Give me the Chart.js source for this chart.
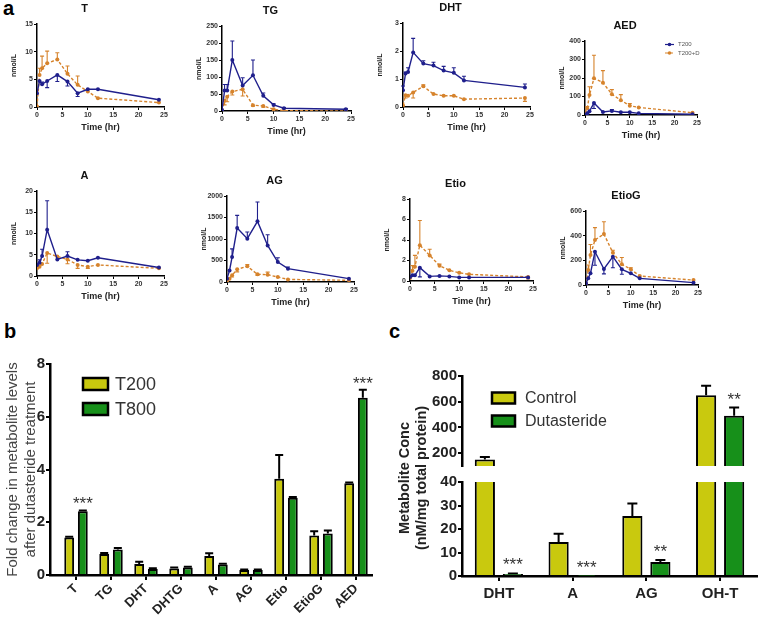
<!DOCTYPE html>
<html>
<head>
<meta charset="utf-8">
<script src="https://cdn.jsdelivr.net/npm/chart.js@4.4.1/dist/chart.umd.min.js"></script>
<style>
  body { margin: 0; background: #fff; width: 760px; height: 627px; position: relative; overflow: hidden; font-family: "Liberation Sans", Arial, sans-serif; }
  canvas { position: absolute; }
  .panel { position: absolute; font-weight: bold; font-size: 20px; line-height: 20px; color: #000; }
  #cTitle { position: absolute; left: 313px; top: 461px; width: 200px; height: 34px; line-height: 17px; font-size: 14.5px; font-weight: bold; color: #222; text-align: center; transform: rotate(-90deg); white-space: nowrap; }
</style>
</head>
<body>
<div class="panel" style="left:3px;top:-2px">a</div>
<div class="panel" style="left:4px;top:321px">b</div>
<div class="panel" style="left:389px;top:321px">c</div>

<canvas id="cT"></canvas>
<canvas id="cTG"></canvas>
<canvas id="cDHT"></canvas>
<canvas id="cAED"></canvas>
<canvas id="cA"></canvas>
<canvas id="cAG"></canvas>
<canvas id="cEtio"></canvas>
<canvas id="cEtioG"></canvas>
<canvas id="chartB" width="380" height="297" style="left:0;top:330px"></canvas>
<canvas id="chartCup" width="380" height="146" style="left:380px;top:330px"></canvas>
<canvas id="chartClow" width="380" height="157" style="left:380px;top:470px"></canvas>
<div id="cTitle">Metabolite Conc<br>(nM/mg total protein)</div>

<script>
// ---- panel a: time courses (hr), T200 vs T200+D ----
const times = [0, 0.5, 1, 2, 4, 6, 8, 10, 12, 24];

const t200_T = [2.5, 4.7, 4.1, 4.7, 5.8, 4.6, 2.5, 3.2, 3.2, 1.3];
const t200_T_err = [0, 0, 0.4, -1.2, -1.2, -0.8, -0.6, 0, 0, 0];
const t200d_T = [0.1, 5.8, 7.0, 7.9, 8.6, 6.0, 4.0, 2.8, 1.6, 0.8];
const t200d_T_err = [0, 1.2, 2.2, 2.2, 1.2, 1.4, 1.6, 0, 0, 0];

const t200_TG = [3, 60, 60, 150, 75, 105, 45, 18, 8, 5];
const t200_TG_err = [0, 18, 18, 56, 23, 45, 8, 3, 2, 2];
const t200d_TG = [0, 30, 42, 57, 64, 17, 15, 5, 1, 0];
const t200d_TG_err = [0, -12, -15, -10, -20, -3, -4, 0, 0, 0];

const t200_DHT = [0.6, 1.2, 1.25, 1.95, 1.55, 1.48, 1.3, 1.22, 0.95, 0.7];
const t200_DHT_err = [0.15, 0.05, 0.15, 0.5, 0.1, 0.12, 0.15, 0.18, 0.15, 0.12];
const t200d_DHT = [0.06, 0.42, 0.4, 0.52, 0.74, 0.46, 0.4, 0.4, 0.28, 0.32];
const t200d_DHT_err = [0, -0.1, 0, -0.2, 0.05, 0, 0, 0, 0, -0.12];

const t200_AED = [0, 9, 20, 65, 16, 22, 15, 15, 9, 4];
const t200_AED_err = [0, 0, 0, -30, 0, 8, 0, 0, 0, 0];
const t200d_AED = [12, 36, 108, 198, 175, 112, 80, 50, 41, 12];
const t200d_AED_err = [0, 10, 45, 125, 65, 25, 30, 12, 0, 0];

const t200_A = [2.6, 3.1, 4.7, 10.9, 3.9, 4.7, 3.8, 3.6, 4.3, 2.0];
const t200_A_err = [0, 0.7, 1.6, 6.8, 0, 1.0, 0, 0, 0, 0];
const t200d_A = [1.8, 2.2, 2.8, 5.4, 4.6, 3.9, 2.6, 2.2, 2.6, 1.8];
const t200d_A_err = [0, 0, 0, -2.4, 0, -1.0, -0.8, -0.4, 0, 0];

const t200_AG = [78, 270, 580, 1255, 1008, 1410, 850, 465, 310, 78];
const t200_AG_err = [0, 0, 190, 295, 155, 450, 250, 100, 40, 0];
const t200d_AG = [0, 78, 155, 295, 365, 180, 170, 115, 60, 40];
const t200d_AG_err = [0, 0, -40, -60, 40, -30, 60, 0, 0, 0];

const t200_Etio = [0.4, 0.55, 0.55, 1.3, 0.45, 0.5, 0.45, 0.35, 0.35, 0.35];
const t200_Etio_err = [0, 0, 0, -0.9, 0, 0, 0, 0, 0, 0];
const t200d_Etio = [0.3, 1.0, 1.4, 3.5, 2.5, 1.5, 1.05, 0.8, 0.65, 0.4];
const t200d_Etio_err = [0, 0.5, 1.1, 2.4, 0.6, 0.15, 0, 0, 0, -0.2];

const t200_EtioG = [13, 54, 95, 270, 130, 230, 127, 95, 54, 19];
const t200_EtioG_err = [0, 0, 0, -110, -40, -90, -40, 0, 0, 0];
const t200d_EtioG = [13, 122, 243, 365, 413, 262, 168, 127, 73, 40];
const t200d_EtioG_err = [0, 40, 85, 100, 100, 20, 55, 13, 0, 0];

// ---- panel b: fold change ----
const bCats = ['T', 'TG', 'DHT', 'DHTG', 'A', 'AG', 'Etio', 'EtioG', 'AED'];
const bT200 = [1.42, 0.8, 0.42, 0.25, 0.72, 0.19, 3.65, 1.5, 3.48];
const bT200Err = [0.03, 0.03, 0.08, 0.03, 0.1, 0.02, 0.9, 0.16, 0.03];
const bT800 = [2.42, 0.97, 0.23, 0.28, 0.4, 0.19, 2.93, 1.57, 6.72];
const bT800Err = [0.03, 0.05, 0.03, 0.03, 0.03, 0.02, 0.03, 0.12, 0.3];
const bT800Stars = ['***', '', '', '', '', '', '', '', '***'];
const bTicks = [0, 2, 4, 6, 8];

// ---- panel c: metabolite conc (broken axis 40 | 100) ----
const cCats = ['DHT', 'A', 'AG', 'OH-T'];
const cControl = [150, 14.5, 25.5, 650];
const cControlErr = [20, 3.5, 5.3, 75];
const cDut = [0.8, 0.1, 6, 490];
const cDutErr = [0.3, 0, 0.8, 65];
const cDutStars = ['***', '***', '**', '**'];
const cUpperTicks = [200, 400, 600, 800];
const cLowerTicks = [0, 10, 20, 30, 40];
const cBreakLow = 40, cBreakHigh = 100;

const blue = '#1f1f8c', orange = '#d6832c';
const yellow = '#c9c90e', green = '#17901a';

Chart.defaults.font.family = '"Liberation Sans", Arial, sans-serif';
Chart.defaults.color = '#222';
Chart.defaults.animation = false;
Chart.defaults.responsive = false;

// error bars drawn from the data through the y scale (sign = direction)
const errorBars = {
  id: 'errorBars',
  beforeDatasetsDraw(chart, args, o) {
    const { ctx, chartArea: a } = chart;
    ctx.save();
    ctx.beginPath();
    ctx.rect(a.left - 5, a.top - 1, a.right - a.left + 10, a.bottom - a.top + 1);
    ctx.clip();
    chart.data.datasets.forEach((ds, i) => {
      if (!ds.errs) return;
      const meta = chart.getDatasetMeta(i);
      const ys = chart.scales[meta.yAxisID];
      ctx.strokeStyle = o.color || ds.borderColor;
      ctx.lineWidth = o.width;
      ctx.setLineDash([]);
      meta.data.forEach((el, j) => {
        const raw = ds.data[j];
        const v = (raw !== null && typeof raw === 'object') ? raw.y : raw;
        const e = ds.errs[j];
        if (v == null || !e) return;
        const y0 = ys.getPixelForValue(v), y1 = ys.getPixelForValue(v + e);
        ctx.beginPath();
        ctx.moveTo(el.x, y0); ctx.lineTo(el.x, y1);
        ctx.moveTo(el.x - o.cap / 2, y1); ctx.lineTo(el.x + o.cap / 2, y1);
        ctx.stroke();
      });
    });
    ctx.restore();
  }
};

const stars = {
  id: 'stars',
  afterDatasetsDraw(chart, args, o) {
    const { ctx, chartArea: a } = chart;
    ctx.save();
    ctx.font = o.size + 'px "Liberation Sans", Arial, sans-serif';
    ctx.fillStyle = '#333';
    ctx.textAlign = 'center';
    ctx.textBaseline = 'alphabetic';
    chart.data.datasets.forEach((ds, i) => {
      if (!ds.stars) return;
      const meta = chart.getDatasetMeta(i);
      const ys = chart.scales[meta.yAxisID];
      meta.data.forEach((el, j) => {
        const raw = ds.data[j];
        const v = (raw !== null && typeof raw === 'object') ? raw.y : raw;
        if (v == null || !ds.stars[j]) return;
        const top = ys.getPixelForValue(v + Math.max(ds.errs ? ds.errs[j] : 0, 0));
        if (top < a.top - 1 || top > a.bottom + 1) return;
        ctx.fillText(ds.stars[j], el.x, top - o.gap + 0.575 * o.size);
      });
    });
    ctx.restore();
  }
};

// legend boxes placed inside the plot area
const boxLegend = {
  id: 'boxLegend',
  afterDraw(chart, args, o) {
    const { ctx, chartArea: a } = chart;
    ctx.save();
    ctx.font = o.size + 'px "Liberation Sans", Arial, sans-serif';
    ctx.textBaseline = 'middle';
    chart.data.datasets.forEach((ds, i) => {
      const cy = a.top + o.y + i * o.dy;
      const x = a.left + o.x;
      ctx.fillStyle = ds.backgroundColor;
      ctx.fillRect(x, cy - o.h / 2, o.w, o.h);
      ctx.lineWidth = 2.5;
      ctx.strokeStyle = '#000';
      ctx.strokeRect(x, cy - o.h / 2, o.w, o.h);
      ctx.fillStyle = '#333';
      ctx.fillText(ds.label, a.left + o.tx, cy + 1);
    });
    ctx.restore();
  }
};

const lineLegend = {
  id: 'lineLegend',
  afterDraw(chart, args, o) {
    if (!o.show) return;
    const { ctx, chartArea: a } = chart;
    ctx.save();
    ctx.font = o.size + 'px "Liberation Sans", Arial, sans-serif';
    ctx.textBaseline = 'middle';
    chart.data.datasets.forEach((ds, i) => {
      const cy = a.top + o.y + i * o.dy;
      const x = a.left + o.x;
      ctx.strokeStyle = ds.borderColor;
      ctx.lineWidth = 1.2;
      ctx.setLineDash(ds.borderDash || []);
      ctx.beginPath(); ctx.moveTo(x, cy); ctx.lineTo(x + 9, cy); ctx.stroke();
      ctx.setLineDash([]);
      ctx.fillStyle = ds.borderColor;
      ctx.beginPath(); ctx.arc(x + 4.5, cy, 1.8, 0, Math.PI * 2); ctx.fill();
      ctx.fillStyle = '#555';
      ctx.fillText(ds.label, x + 13, cy);
    });
    ctx.restore();
  }
};

function axisStyle(width, tick) {
  return {
    grid: { drawOnChartArea: false, color: '#000', lineWidth: 1, tickLength: tick },
    border: { color: '#000', width: width }
  };
}

// small time-course chart; box = plot area [left, top, right, bottom] in page px
function smallChart(id, box, title, ymax, ystep, s1, e1, s2, e2, legend) {
  const [L, T, R, B] = box;
  const cv = document.getElementById(id);
  cv.width = R - L + 40;
  cv.height = B - T + 48;
  cv.style.left = (L - 32) + 'px';
  cv.style.top = (T - 22) + 'px';
  return new Chart(cv, {
    type: 'line',
    data: {
      datasets: [
        { label: 'T200', data: times.map((t, i) => ({ x: t, y: s1[i] })), errs: e1,
          borderColor: blue, backgroundColor: blue, borderWidth: 1.4, pointRadius: 2, pointBorderWidth: 0 },
        { label: 'T200+D', data: times.map((t, i) => ({ x: t, y: s2[i] })), errs: e2,
          borderColor: orange, backgroundColor: orange, borderWidth: 1.4, borderDash: [3, 2], pointRadius: 2, pointBorderWidth: 0 }
      ]
    },
    options: {
      layout: { padding: { left: 0, top: 0, right: 8, bottom: 0 } },
      plugins: {
        legend: { display: false },
        tooltip: { enabled: false },
        title: { display: true, text: title, color: '#111', font: { size: 11, weight: 'bold' }, padding: { top: 0, bottom: 8.8 } },
        errorBars: { cap: 4, width: 1.1 },
        lineLegend: { show: !!legend, x: 80, y: 3.5, dy: 8.5, size: 6 }
      },
      scales: {
        x: {
          type: 'linear', min: 0, max: 25,
          ticks: { stepSize: 5, font: { size: 7, weight: 'bold' }, color: '#333', padding: 1, maxRotation: 0 },
          ...axisStyle(1.5, 3),
          title: { display: true, text: 'Time (hr)', color: '#222', font: { size: 9, weight: 'bold' }, padding: 0 },
          afterFit: s => { s.height = 26; }
        },
        y: {
          min: 0, max: ymax,
          ticks: { stepSize: ystep, font: { size: 7, weight: 'bold' }, color: '#333', padding: 1, callback: v => String(v) },
          ...axisStyle(1.5, 3),
          title: { display: true, text: 'nmol/L', color: '#222', font: { size: 7, weight: 'bold' }, padding: { top: 5, bottom: 0 } },
          afterFit: s => { s.width = 32; }
        }
      }
    },
    plugins: [errorBars, lineLegend]
  });
}

smallChart('cT', [37, 24, 164, 107], 'T', 15, 5, t200_T, t200_T_err, t200d_T, t200d_T_err);
smallChart('cTG', [222, 26, 351, 111], 'TG', 250, 50, t200_TG, t200_TG_err, t200d_TG, t200d_TG_err);
smallChart('cDHT', [403, 23, 530, 107], 'DHT', 3, 1, t200_DHT, t200_DHT_err, t200d_DHT, t200d_DHT_err);
smallChart('cAED', [585, 41, 697, 115], 'AED', 400, 100, t200_AED, t200_AED_err, t200d_AED, t200d_AED_err, true);
smallChart('cA', [37, 191, 164, 276], 'A', 20, 5, t200_A, t200_A_err, t200d_A, t200d_A_err);
smallChart('cAG', [227, 196, 354, 282], 'AG', 2000, 500, t200_AG, t200_AG_err, t200d_AG, t200d_AG_err);
smallChart('cEtio', [410, 199, 533, 281], 'Etio', 8, 2, t200_Etio, t200_Etio_err, t200d_Etio, t200d_Etio_err);
smallChart('cEtioG', [586, 211, 698, 285], 'EtioG', 600, 200, t200_EtioG, t200_EtioG_err, t200d_EtioG, t200d_EtioG_err);

// ---- panel b (categories placed on a linear axis so the first group sits off the y axis) ----
const barStyle = { borderColor: '#000', borderWidth: 2, categoryPercentage: 0.78, barPercentage: 0.72 };
new Chart(document.getElementById('chartB'), {
  type: 'bar',
  data: {
    datasets: [
      { label: 'T200', data: bT200.map((v, i) => ({ x: i, y: v })), errs: bT200Err, backgroundColor: yellow, ...barStyle },
      { label: 'T800', data: bT800.map((v, i) => ({ x: i, y: v })), errs: bT800Err, stars: bT800Stars, backgroundColor: green, ...barStyle }
    ]
  },
  options: {
    layout: { padding: { left: 0, top: 34, right: 8, bottom: 0 } },
    plugins: {
      legend: { display: false },
      tooltip: { enabled: false },
      errorBars: { cap: 8, width: 2, color: '#000' },
      stars: { size: 17, gap: 11 },
      boxLegend: { x: 33, y: 20, dy: 25, w: 25, h: 12, tx: 65, size: 18 }
    },
    scales: {
      x: {
        type: 'linear', min: -0.743, max: 8.457, offset: false,
        afterBuildTicks: s => { s.ticks = bCats.map((c, i) => ({ value: i })); },
        ticks: { font: { size: 13, weight: 'bold' }, color: '#222', maxRotation: 45, minRotation: 45, padding: 1, callback: v => bCats[v] },
        grid: { offset: false, drawOnChartArea: false, color: '#000', lineWidth: 2, tickLength: 5 },
        border: { color: '#000', width: 2.5 },
        afterFit: s => { s.height = 52; }
      },
      y: {
        min: 0, max: 8,
        afterBuildTicks: s => { s.ticks = bTicks.map(v => ({ value: v })); },
        ticks: { font: { size: 15, weight: 'bold' }, color: '#222', padding: 1 },
        grid: { drawOnChartArea: false, color: '#000', lineWidth: 2, tickLength: 4 },
        border: { color: '#000', width: 2.5 },
        title: { display: true, text: ['Fold change in metabolite levels', 'after dutasteride treatment'], color: '#444', font: { size: 15 }, padding: { top: 4, bottom: 0 } },
        afterFit: s => { s.width = 50; }
      }
    }
  },
  plugins: [errorBars, stars, boxLegend]
});

// ---- panel c: upper segment ----
const cBarStyle = { ...barStyle, categoryPercentage: 0.76, barPercentage: 0.72 };
new Chart(document.getElementById('chartCup'), {
  type: 'bar',
  data: {
    labels: cCats,
    datasets: [
      { label: 'Control', data: cControl.map(v => v > cBreakHigh ? v : null), errs: cControlErr, backgroundColor: yellow, ...cBarStyle },
      { label: 'Dutasteride', data: cDut.map(v => v > cBreakHigh ? v : null), errs: cDutErr, stars: cDutStars, backgroundColor: green, ...cBarStyle }
    ]
  },
  options: {
    layout: { padding: { left: 0, top: 46, right: 3, bottom: 0 } },
    plugins: {
      legend: { display: false },
      tooltip: { enabled: false },
      errorBars: { cap: 10, width: 2, color: '#000' },
      stars: { size: 17, gap: 12 },
      boxLegend: { x: 30, y: 22, dy: 23, w: 23, h: 11, tx: 63, size: 16 }
    },
    scales: {
      x: { display: false },
      y: {
        min: cBreakHigh, max: 800,
        afterBuildTicks: s => { s.ticks = cUpperTicks.map(v => ({ value: v })); },
        ticks: { font: { size: 15, weight: 'bold' }, color: '#222', padding: 1 },
        grid: { drawOnChartArea: false, color: '#000', lineWidth: 2, tickLength: 4 },
        border: { color: '#000', width: 2.5 },
        afterFit: s => { s.width = 82; }
      }
    }
  },
  plugins: [errorBars, stars, boxLegend]
});

// ---- panel c: lower segment ----
new Chart(document.getElementById('chartClow'), {
  type: 'bar',
  data: {
    labels: cCats,
    datasets: [
      { label: 'Control', data: cControl, errs: cControlErr, backgroundColor: yellow, ...cBarStyle },
      { label: 'Dutasteride', data: cDut, errs: cDutErr, stars: cDutStars, backgroundColor: green, ...cBarStyle }
    ]
  },
  options: {
    layout: { padding: { left: 0, top: 12, right: 3, bottom: 0 } },
    plugins: {
      legend: { display: false },
      tooltip: { enabled: false },
      errorBars: { cap: 10, width: 2, color: '#000' },
      stars: { size: 17, gap: 13 }
    },
    scales: {
      x: {
        ticks: { font: { size: 15, weight: 'bold' }, color: '#222', padding: 4 },
        grid: { offset: false, drawOnChartArea: false, color: '#000', lineWidth: 2, tickLength: 5 },
        border: { color: '#000', width: 2.5 },
        afterFit: s => { s.height = 51; }
      },
      y: {
        min: 0, max: cBreakLow,
        afterBuildTicks: s => { s.ticks = cLowerTicks.map(v => ({ value: v })); },
        ticks: { font: { size: 15, weight: 'bold' }, color: '#222', padding: 1 },
        grid: { drawOnChartArea: false, color: '#000', lineWidth: 2, tickLength: 4 },
        border: { color: '#000', width: 2.5 },
        afterFit: s => { s.width = 82; }
      }
    }
  },
  plugins: [errorBars, stars]
});
</script>
</body>
</html>
